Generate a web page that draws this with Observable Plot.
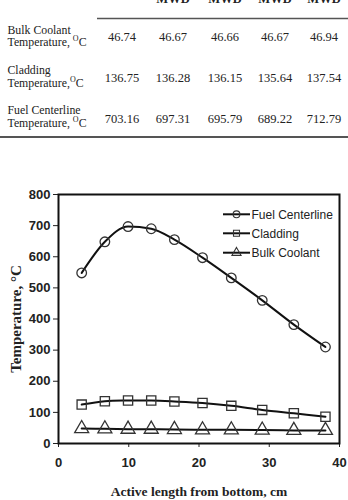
<!DOCTYPE html>
<html><head><meta charset="utf-8">
<script src="https://cdn.jsdelivr.net/npm/d3@7"></script>
<script src="https://cdn.jsdelivr.net/npm/@observablehq/plot@0.6"></script>
<style>
body{margin:0;background:#fff;width:348px;height:500px;overflow:hidden;position:relative;}
#table{position:absolute;left:0;top:0;}
#chart{position:absolute;left:0;top:180px;}
#legend{position:absolute;left:0;top:180px;}
#chart g[aria-label="x-axis label"] text{font-family:"Liberation Serif","Times New Roman",serif;font-weight:bold;font-size:13.5px;}
#chart g[aria-label="y-axis label"] text{font-family:"Liberation Serif","Times New Roman",serif;font-weight:bold;font-size:15px;}
</style>
</head><body>
<svg id="table" width="348" height="150"></svg>
<div id="chart"></div>
<svg id="legend" width="348" height="100"></svg>
<script>
// ---- table data ----
const colHeaders = ["MWD", "MWD", "MWD", "MWD"];
const rowLabels = [
  ["Bulk Coolant", "Temperature, °C"],
  ["Cladding", "Temperature,°C"],
  ["Fuel Centerline", "Temperature, °C"]
];
const bulkRow = [46.74, 46.67, 46.66, 46.67, 46.94];
const claddingRow = [136.75, 136.28, 136.15, 135.64, 137.54];
const fuelRow = [703.16, 697.31, 695.79, 689.22, 712.79];

// ---- chart data ----
const position = [3.3, 6.6, 9.9, 13.2, 16.5, 20.5, 24.6, 29.0, 33.5, 38.0];
const fuelCenterline = [548, 648, 697, 690, 655, 597, 532, 460, 382, 310];
const cladding = [125, 136, 138, 138, 135, 130, 121, 108, 97, 86];
const bulkCoolant = [48, 47, 46, 46, 45, 44, 44, 43, 42, 42];
const xTicks = [0, 10, 20, 30, 40];
const yTicks = [0, 100, 200, 300, 400, 500, 600, 700, 800];
const seriesNames = ["Fuel Centerline", "Cladding", "Bulk Coolant"];

// ---- table ----
const tsvg = d3.select("#table");
const serif = "'Liberation Serif','Times New Roman',serif";
const colX = [122, 173, 225, 275, 324];
colHeaders.forEach((h, i) => {
  tsvg.append("text").attr("x", colX[i + 1]).attr("y", 3).attr("text-anchor", "middle")
    .attr("font-family", serif).attr("font-size", 12.5).attr("font-weight", "bold").attr("fill", "#222").text(h);
});
tsvg.append("line").attr("x1", 97).attr("x2", 348).attr("y1", 18.5).attr("y2", 18.5).attr("stroke", "#555").attr("stroke-width", 1.5);
tsvg.append("line").attr("x1", 0).attr("x2", 348).attr("y1", 137).attr("y2", 137).attr("stroke", "#555").attr("stroke-width", 2);
const rows = [bulkRow, claddingRow, fuelRow];
const rowBase = [[34, 45.5, 41], [74, 86.5, 81.5], [114, 127, 122.5]];
function addLabel(str, x, y) {
  const t = tsvg.append("text").attr("x", x).attr("y", y).attr("font-family", serif)
    .attr("font-size", 11.8).attr("fill", "#222");
  const parts = str.split("°");
  t.append("tspan").text(parts[0]);
  if (parts.length > 1) {
    t.append("tspan").attr("dy", -5).attr("font-size", 8).text("O");
    t.append("tspan").attr("dy", 5).text(parts[1]);
  }
}
rows.forEach((vals, r) => {
  addLabel(rowLabels[r][0], 7.5, rowBase[r][0]);
  addLabel(rowLabels[r][1], 7.5, rowBase[r][1]);
  vals.forEach((v, c) => {
    tsvg.append("text").attr("x", colX[c]).attr("y", rowBase[r][2]).attr("text-anchor", "middle")
      .attr("font-family", serif).attr("font-size", 12.5).attr("fill", "#222").text(v.toFixed(2));
  });
});

// ---- chart ----
const data = position.map((x, i) => ({x, fuel: fuelCenterline[i], clad: cladding[i], bulk: bulkCoolant[i]}));
const chart = Plot.plot({
  width: 348, height: 320,
  marginLeft: 58, marginRight: 9, marginTop: 14, marginBottom: 57,
  style: {background: "transparent", fontFamily: "'Liberation Sans',Arial,sans-serif", fontSize: "13px", fontWeight: "bold", color: "#222"},
  x: {domain: [0, 40], ticks: xTicks, tickSize: 4, tickPadding: 10, label: "Active length from bottom, cm", labelAnchor: "center", labelOffset: 52, labelArrow: "none"},
  y: {domain: [0, 800], ticks: yTicks, tickSize: 5, tickPadding: 3, label: "Temperature, °C", labelAnchor: "center", labelOffset: 48, labelArrow: "none"},
  marks: [
    Plot.line(data, {x: "x", y: "fuel", curve: "monotone-x", stroke: "#111", strokeWidth: 2}),
    Plot.line(data, {x: "x", y: "clad", curve: "catmull-rom", stroke: "#111", strokeWidth: 2}),
    Plot.line(data, {x: "x", y: "bulk", curve: "catmull-rom", stroke: "#111", strokeWidth: 2}),
    Plot.dot(data, {x: "x", y: "fuel", symbol: "circle", r: 4.8, stroke: "#333", fill: "none", strokeWidth: 1.3}),
    Plot.dot(data, {x: "x", y: "clad", symbol: "square", r: 5.2, stroke: "#333", fill: "none", strokeWidth: 1.3}),
    Plot.dot(data, {x: "x", y: "bulk", symbol: "triangle", r: 5.2, stroke: "#333", fill: "none", strokeWidth: 1.3}),
    Plot.frame({stroke: "#111", strokeWidth: 2})
  ]
});
document.getElementById("chart").appendChild(chart);

// ---- legend ----
const lsvg = d3.select("#legend");
const syms = [d3.symbolCircle, d3.symbolSquare, d3.symbolTriangle];
const legY = [34.3, 53.3, 72.7];
seriesNames.forEach((name, i) => {
  const g = lsvg.append("g").attr("transform", `translate(0,${legY[i]})`);
  g.append("line").attr("x1", 223).attr("x2", 250).attr("stroke", "#111").attr("stroke-width", 2);
  g.append("path").attr("transform", "translate(236.5,0)").attr("d", d3.symbol(syms[i], 36)())
    .attr("fill", "none").attr("stroke", "#333").attr("stroke-width", 1.1);
  g.append("text").attr("x", 251.5).attr("dy", "0.35em").attr("font-family", "'Liberation Sans',Arial,sans-serif")
    .attr("font-size", 12).attr("fill", "#222").text(name);
});
</script>
</body></html>
